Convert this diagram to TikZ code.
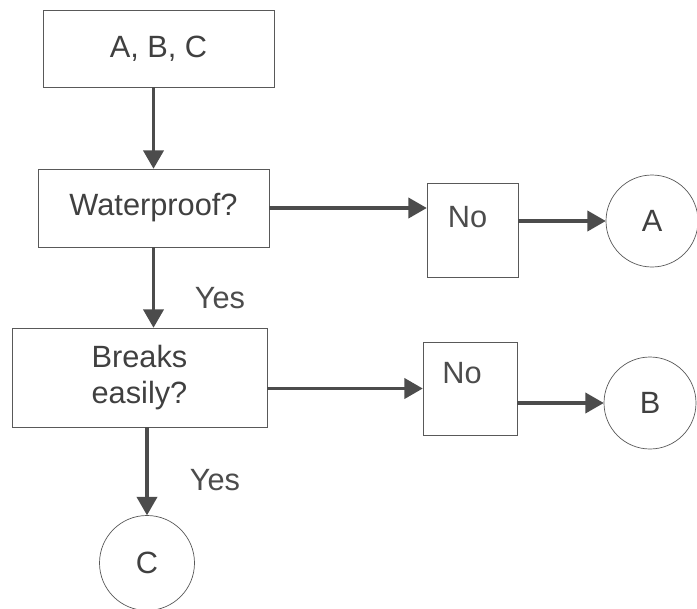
\documentclass[tikz,border=0pt]{standalone}
\usepackage{fontspec}
\setmainfont{Liberation Sans}
\usetikzlibrary{arrows}

\tikzset{
 box/.style={draw=black!65, thin, inner sep=0pt, text=black!75,
  font=\fontsize{17.5}{21}\selectfont, align=center},
 ball/.style={draw=black!65, thin, circle, inner sep=0pt, minimum size=1.84cm,
  text=black!75, font=\fontsize{17.5}{21}\selectfont},
 lbl/.style={text=black!70, font=\fontsize{17.5}{21}\selectfont},
 arr/.style={draw=black!70, line width=1.9pt, ->, >=triangle 60}
}

\begin{document}
\begin{tikzpicture}
\useasboundingbox (0,0) rectangle (13.94,-12.18);
% boxes
\node[box, minimum width=4.62cm, minimum height=1.54cm] (abc) at (3.17,-0.97) {A, B, C};
\node[box, minimum width=4.62cm, minimum height=1.56cm] (wp) at (3.07,-4.16) {Waterproof?};
\node[box, minimum width=5.1cm, minimum height=1.98cm] (br) at (2.79,-7.55) {Breaks\\easily?};
\node[box, minimum width=1.82cm, minimum height=1.88cm] (no1) at (9.45,-4.6) {};
\node[box, minimum width=1.88cm, minimum height=1.86cm] (no2) at (9.4,-7.77) {};
\node[lbl] (no1txt) at ([xshift=-0.1cm,yshift=-0.68cm]no1.north) {No};
\node[lbl] (no2txt) at ([xshift=-0.16cm,yshift=-0.62cm]no2.north) {No};
% circles
\node[ball] (a) at (13.04,-4.42) {A};
\node[ball] (b) at (13.0,-8.06) {B};
\node[ball, minimum size=1.9cm] (c) at (2.94,-11.26) {C};
% connectors
\draw[arr] (abc.south -| wp.north) -- (wp.north);
\draw[arr] (wp.east) -- (wp.east -| no1.west);
\draw[arr] (a.west -| no1.east) -- (a.west);
\draw[arr] (wp.south) -- (wp.south |- br.north);
\draw[arr] (no2.west -| br.east) -- (no2.west);
\draw[arr] (b.west -| no2.east) -- (b.west);
\draw[arr] (br.south -| c.north) -- (c.north);
\node[lbl] (yes1) at (4.4,-5.96) {Yes};
\node[lbl] (yes2) at (4.3,-9.6) {Yes};
\end{tikzpicture}
\end{document}
